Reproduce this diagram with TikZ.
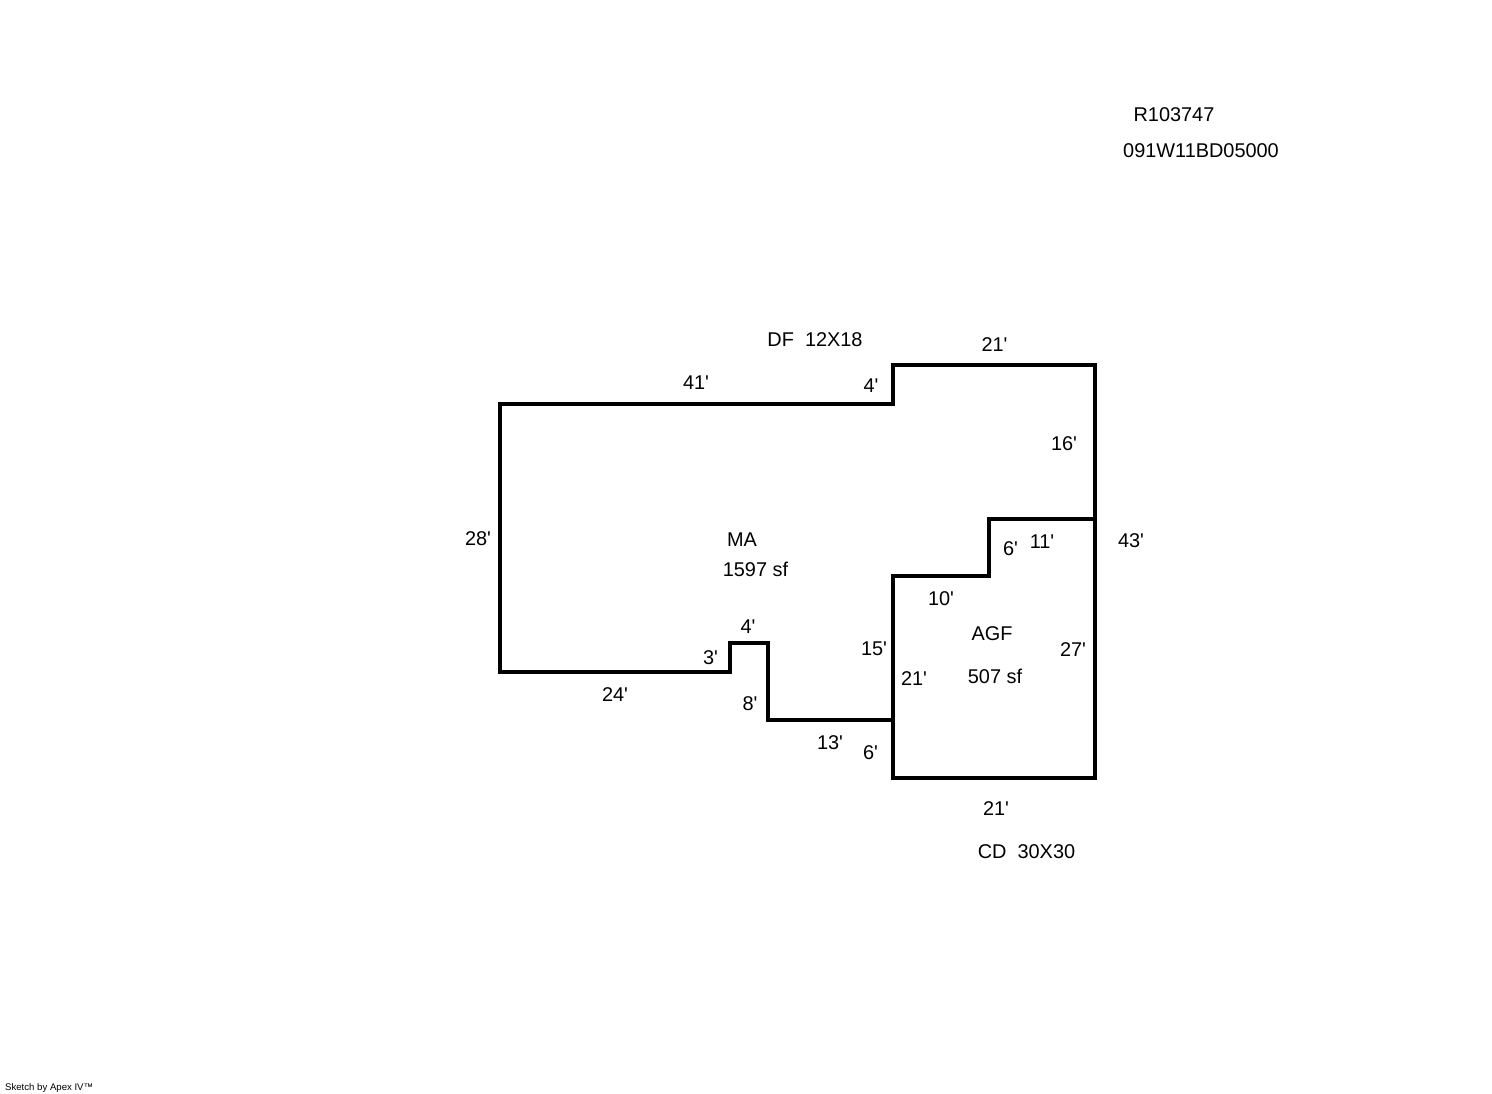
\documentclass[tikz,border=0pt]{standalone}
\usepackage{fontspec}
\setmainfont{Liberation Sans}[Ligatures=TeXOff]
\begin{document}
\begin{tikzpicture}[x=1pt,y=-1pt,
  wall/.style={line width=4pt,line cap=rect,miter limit=10,draw=black},
  lbl/.style={inner sep=0pt,yshift=-0.6pt,font=\fontsize{19.9}{22}\selectfont,text=black}]
\useasboundingbox[fill=white] (0,0) rectangle (1492,1094);
\draw[wall] (500,403.5) -- (893,403.5) -- (893,365) -- (1095,365) -- (1095,777.5) -- (893,777.5) -- (893,719.5) -- (768.3,719.5) -- (768.3,643) -- (730.3,643) -- (730.3,671.5) -- (500,671.5) -- cycle;
\draw[wall] (893,719.5) -- (893,576) -- (989,576) -- (989,519) -- (1095,519);
\node[lbl] (r) at (1174,114) {R103747};
\node[lbl] (p) at (1201,150) {091W11BD05000};
\node[lbl] (df) at (815,339) {DF\ \ 12X18};
\node[lbl] (a1) at (994.5,344) {21'};
\node[lbl] (a2) at (696,382) {41'};
\node[lbl] (a3) at (871,385) {4'};
\node[lbl] (a4) at (1064,443) {16'};
\node[lbl] (a5) at (478,538) {28'};
\node[lbl] (a6) at (1010.5,548) {6'};
\node[lbl] (a7) at (1042,541) {11'};
\node[lbl] (a8) at (1131,540) {43'};
\node[lbl] (ma) at (742,539) {MA};
\node[lbl] (ms) at (755.5,569) {1597 sf};
\node[lbl] (a9) at (941,598) {10'};
\node[lbl] (a10) at (748,626) {4'};
\node[lbl] (ag) at (992,633) {AGF};
\node[lbl] (a11) at (874,648) {15'};
\node[lbl] (a12) at (1073,649) {27'};
\node[lbl] (a13) at (710.5,657) {3'};
\node[lbl] (a14) at (914,678) {21'};
\node[lbl] (as) at (995,676) {507 sf};
\node[lbl] (a15) at (615,694) {24'};
\node[lbl] (a16) at (750,703) {8'};
\node[lbl] (a17) at (830,742) {13'};
\node[lbl] (a18) at (870.5,752) {6'};
\node[lbl] (a19) at (996,808) {21'};
\node[lbl] (cd) at (1026.5,851) {CD\ \ 30X30};
\node[inner sep=0pt,anchor=west,font=\fontsize{9.6}{11}\selectfont] (s) at (5,1088) {Sketch by Apex IV™};
\end{tikzpicture}
\end{document}
